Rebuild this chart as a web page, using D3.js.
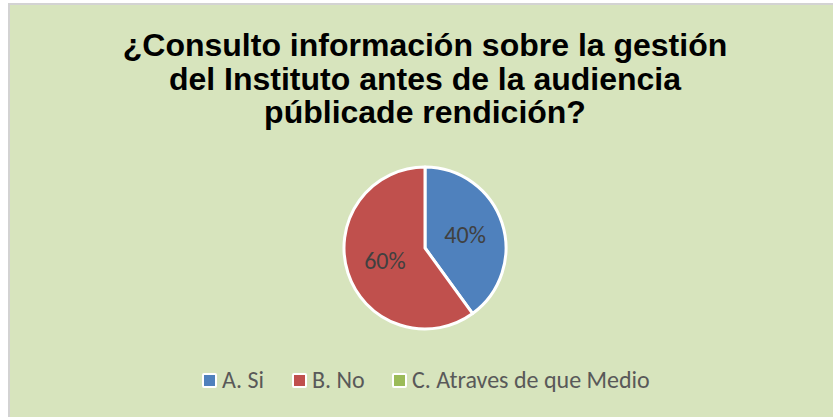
<!DOCTYPE html>
<html>
<head>
<meta charset="utf-8">
<script src="https://cdn.jsdelivr.net/npm/d3@7"></script>
<style>
  body { margin: 0; background: #fff; }
</style>
</head>
<body>
<div id="chart"></div>
<script>
var categories = ["A. Si", "B. No", "C. Atraves de que Medio"],
    values = [40, 60, 0],
    colors = ["#4f81bd", "#c0504d", "#9bbb59"],
    titleLines = ["¿Consulto información sobre la gestión", "del Instituto antes de la audiencia", "públicade rendición?"];

var W = 833, H = 417,
    cx = 425, cy = 248, r = 81;

var svg = d3.select("#chart").append("svg")
    .attr("width", W)
    .attr("height", H);

// chart area with grey edge
svg.append("rect")
    .attr("x", 8).attr("y", 3)
    .attr("width", W - 8).attr("height", H - 3)
    .attr("fill", "#d3d3d3");
svg.append("rect")
    .attr("x", 10).attr("y", 5)
    .attr("width", W - 10).attr("height", H - 5)
    .attr("fill", "#d7e4bd");

// title
svg.append("text")
    .attr("text-anchor", "middle")
    .attr("font-family", "Liberation Sans, Arial, sans-serif")
    .attr("font-weight", "bold")
    .attr("font-size", 32)
    .attr("fill", "#000")
    .selectAll("tspan")
    .data(titleLines)
    .enter().append("tspan")
    .attr("x", 425)
    .attr("y", function (d, i) { return 56 + i * 33.5; })
    .text(function (d) { return d; });

var pie = d3.pie().sort(null).startAngle(0).endAngle(2 * Math.PI);
var arc = d3.arc().innerRadius(0).outerRadius(r);
var labelArc = d3.arc().innerRadius(r * 0.52).outerRadius(r * 0.52);

var g = svg.append("g")
    .attr("transform", "translate(" + cx + "," + cy + ")");

var slices = pie(values);

g.selectAll("path")
    .data(slices.filter(function (d) { return d.value > 0; }))
    .enter().append("path")
    .attr("d", arc)
    .attr("fill", function (d) { return colors[d.index]; })
    .attr("stroke", "#fff")
    .attr("stroke-width", 3)
    .attr("stroke-linejoin", "round");

g.selectAll("text")
    .data(slices.filter(function (d) { return d.value > 0; }))
    .enter().append("text")
    .attr("transform", function (d) { return "translate(" + labelArc.centroid(d) + ")"; })
    .attr("text-anchor", "middle")
    .attr("dy", "0.35em")
    .attr("font-family", "Carlito, Calibri, Liberation Sans, sans-serif")
    .attr("font-size", 24)
    .attr("fill", "#404040")
    .text(function (d) { return d.value + "%"; });

// legend
var legendX = [202, 292, 392];
var leg = svg.append("g")
    .selectAll("g")
    .data(categories)
    .enter().append("g")
    .attr("transform", function (d, i) { return "translate(" + legendX[i] + ",381)"; });

leg.append("rect")
    .attr("x", 0).attr("y", -8)
    .attr("width", 15).attr("height", 15)
    .attr("rx", 2)
    .attr("fill", "#fff");

leg.append("rect")
    .attr("x", 2).attr("y", -6)
    .attr("width", 11).attr("height", 11)
    .attr("fill", function (d, i) { return colors[i]; });

leg.append("text")
    .attr("x", 20)
    .attr("y", 7)
    .attr("font-family", "Carlito, Calibri, Liberation Sans, sans-serif")
    .attr("font-size", 24)
    .attr("fill", "#595959")
    .text(function (d) { return d; });
</script>
</body>
</html>
